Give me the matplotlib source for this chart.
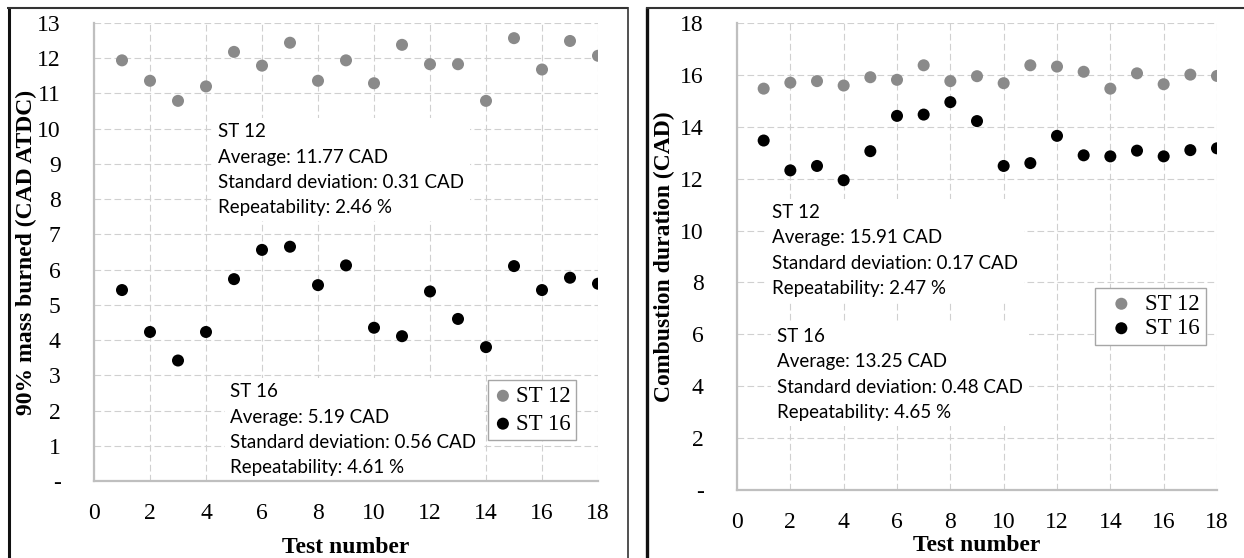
import matplotlib
matplotlib.use("Agg")
import matplotlib.pyplot as plt
from matplotlib.lines import Line2D

# ---- data -------------------------------------------------------------
tests = list(range(1, 19))

# 90% mass burned (CAD ATDC)
mb90_st12 = [11.94, 11.36, 10.79, 11.20, 12.18, 11.79, 12.44, 11.36, 11.94,
             11.29, 12.38, 11.83, 11.83, 10.79, 12.57, 11.68, 12.49, 12.07]
mb90_st16 = [5.42, 4.23, 3.42, 4.23, 5.73, 6.56, 6.65, 5.56, 6.12,
             4.35, 4.11, 5.38, 4.60, 3.80, 6.10, 5.42, 5.77, 5.60]

# Combustion duration (CAD)
dur_st12 = [15.47, 15.70, 15.76, 15.59, 15.91, 15.81, 16.37, 15.76, 15.95,
            15.68, 16.37, 16.32, 16.12, 15.47, 16.06, 15.64, 16.01, 15.96]
dur_st16 = [13.47, 12.32, 12.49, 11.94, 13.06, 14.42, 14.47, 14.95, 14.22,
            12.49, 12.60, 13.65, 12.90, 12.86, 13.08, 12.86, 13.10, 13.17]

series_labels = ["ST 12", "ST 16"]
x_ticks = list(range(0, 19, 2))
left_yticks = list(range(0, 14))
right_yticks = list(range(0, 19, 2))

left_stats = [
    "ST 12\nAverage: 11.77 CAD\nStandard deviation: 0.31 CAD\nRepeatability: 2.46 %",
    "ST 16\nAverage: 5.19 CAD\nStandard deviation: 0.56 CAD\nRepeatability: 4.61 %",
]
right_stats = [
    "ST 12\nAverage: 15.91 CAD\nStandard deviation: 0.17 CAD\nRepeatability: 2.47 %",
    "ST 16\nAverage: 13.25 CAD\nStandard deviation: 0.48 CAD\nRepeatability: 4.65 %",
]

# ---- style ------------------------------------------------------------
W, H = 1244, 558
GRAY_PT = "#8a8a8a"
BLACK_PT = "#000000"
GRID = "#d0d0d0"
SPINE = "#bfbfbf"
SERIF = "Liberation Serif"
SANS = "Lato"
plt.rcParams["font.family"] = SERIF

fig = plt.figure(figsize=(W / 100, H / 100), dpi=100)


def frac_rect(x0, y0, x1, y1):
    """pixel box (top-left origin) -> figure fraction [l, b, w, h]"""
    return [x0 / W, 1 - y1 / H, (x1 - x0) / W, (y1 - y0) / H]


def fx(x):
    return x / W


def fy(y):
    return 1 - y / H


def style_axes(ax, ymax, yticks, ylabel):
    ax.set_xlim(0, 18)
    ax.set_ylim(0, ymax)
    ax.set_xticks(x_ticks)
    ax.set_yticks(yticks)
    ax.set_yticklabels(["-"] + [str(v) for v in yticks[1:]])
    ax.tick_params(length=0, labelsize=17, colors="black")
    ax.tick_params(axis="x", pad=16)
    ax.tick_params(axis="y", pad=24)
    for s in ("top", "right"):
        ax.spines[s].set_visible(False)
    for s in ("left", "bottom"):
        ax.spines[s].set_color(SPINE)
        ax.spines[s].set_linewidth(1.6)
        ax.spines[s].set_zorder(3)
    ax.grid(True, color=GRID, linewidth=0.8, dashes=(6, 3))
    ax.set_axisbelow(True)
    ax.set_xlabel("Test number", fontweight="bold", fontsize=17)
    ax.set_ylabel(ylabel, fontweight="bold", fontsize=17)


STAT_KW = dict(fontfamily=SANS, fontsize=13.5, va="center", ha="left",
               linespacing=1.58,
               bbox=dict(facecolor="white", edgecolor="none", pad=4),
               zorder=2)
LEG_KW = dict(loc="upper left", bbox_transform=fig.transFigure, frameon=True,
              fancybox=False, edgecolor="#a6a6a6", framealpha=1,
              borderpad=0.25, handletextpad=0.15,
              borderaxespad=0, prop={"family": SERIF, "size": 16.5})

# ---- left panel -------------------------------------------------------
axL = fig.add_axes(frac_rect(94, 23, 598, 481))
style_axes(axL, 13, left_yticks, "90% mass burned (CAD ATDC)")
axL.yaxis.set_label_coords(-0.113, 0.5)
axL.xaxis.set_label_coords(0.5, -0.122)
axL.scatter(tests, mb90_st12, s=75, color=GRAY_PT, edgecolors="none",
            label=series_labels[0], zorder=4)
axL.scatter(tests, mb90_st16, s=75, color=BLACK_PT, edgecolors="none",
            label=series_labels[1], zorder=4)

axL.text(4.44, 8.84, left_stats[0], **STAT_KW)
axL.text(4.87, 1.46, left_stats[1], **STAT_KW)

legL = axL.legend(bbox_to_anchor=(fx(488), fy(380)), labelspacing=0.3,
                  handlelength=0.8, **LEG_KW)
legL.get_frame().set_linewidth(1.0)

# ---- right panel ------------------------------------------------------
axR = fig.add_axes(frac_rect(737, 23, 1217, 490))
style_axes(axR, 18, right_yticks, "Combustion duration (CAD)")
axR.yaxis.set_label_coords(-0.13, 0.5)
axR.xaxis.set_label_coords(0.5, -0.096)
axR.scatter(tests, dur_st12, s=75, color=GRAY_PT, edgecolors="none",
            label=series_labels[0], zorder=4)
axR.scatter(tests, dur_st16, s=75, color=BLACK_PT, edgecolors="none",
            label=series_labels[1], zorder=4)

axR.text(1.31, 9.23, right_stats[0], **STAT_KW)
axR.text(1.50, 4.45, right_stats[1], **STAT_KW)

legR = axR.legend(bbox_to_anchor=(fx(1095), fy(288)), labelspacing=0.15,
                  handlelength=1.8, **LEG_KW)
legR.get_frame().set_linewidth(1.0)

# ---- panel frames -----------------------------------------------------
def frame_line(xs, ys, lw, color):
    fig.add_artist(Line2D([fx(v) for v in xs], [fy(v) for v in ys],
                          transform=fig.transFigure, lw=lw, color=color,
                          solid_capstyle="butt"))


frame_line([8.5, 8.5], [7, 558], 2.2, "#111111")
frame_line([7, 628], [8, 8], 1.5, "#333333")
frame_line([628, 628], [7, 558], 1.2, "#333333")
frame_line([647, 647], [7, 558], 2.4, "#111111")
frame_line([646, 1244], [8, 8], 1.5, "#333333")

fig.savefig("out.png", dpi=100)
